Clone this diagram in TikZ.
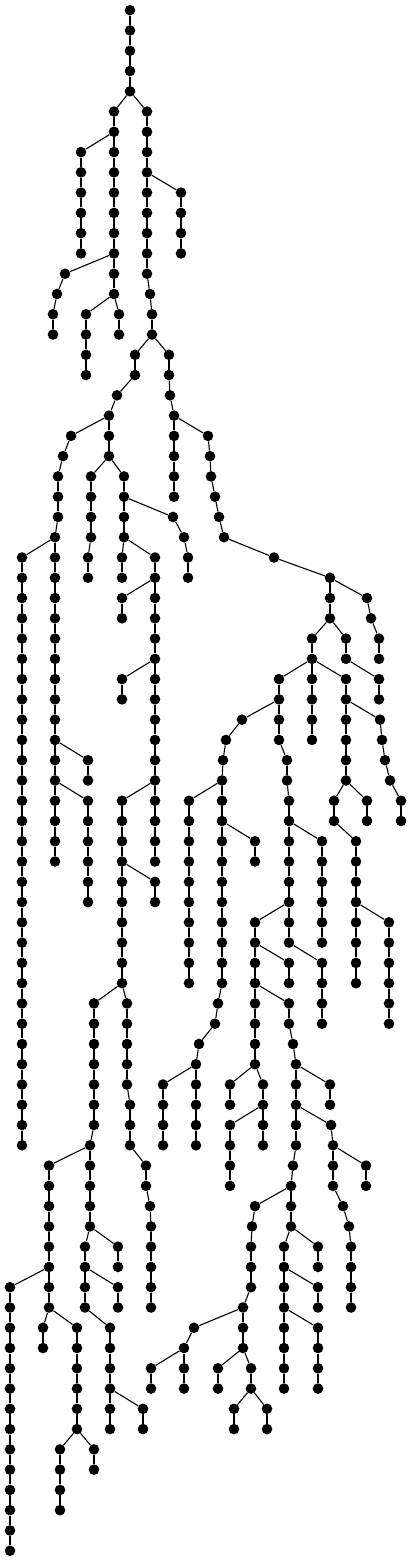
\documentclass[tikz,border=0pt]{standalone}
\tikzset{dot/.style={circle,fill=black,inner sep=0pt,minimum size=10.6pt},
  edge/.style={line width=1.1pt,black}}
\newcommand\chain[3]{\foreach \rw in {#2,...,#3}{\node[dot] (n#1r\rw) at (#1,{10.2+20.27*\rw}) {};\ifnum\rw>#2\relax\pgfmathtruncatemacro\pw{\rw-1}\draw[edge] (n#1r\pw) -- (n#1r\rw);\fi}}
\newcommand\nd[2]{\node[dot] (n#1r#2) at (#1,{10.2+20.27*#2}) {};}
\begin{document}
\begin{tikzpicture}[x=1pt,y=-1pt]
\useasboundingbox (0,0) rectangle (411,1561);
\foreach \cx/\ca/\cb in {130/0/4,114/5/14,147/5/13,81/7/12,181/9/12,53/15/16,86/15/18,119/15/16,152/15/16,135/17/18,169/17/18,109/20/22,58/23/25,55/26/42,22/27/56,88/37/38,88/39/44,91/23/26,88/27/28,124/23/26,188/27/28,122/27/28,155/27/42,122/29/30,122/33/34,122/39/48,155/43/44,94/49/55,90/56/60,49/57/64,10/63/76,43/65/66,77/65/70,60/71/74,94/71/72,118/61/62,85/61/64,118/63/64,110/65/70,143/69/70,127/49/53,130/54/56,146/57/58,151/60/64,174/20/24,330/28/30,379/31/32,346/31/32,379/33/34,312/31/36,279/33/36,346/33/38,222/38/48,189/39/48,255/41/42,196/52/56,163/53/56,287/37/38,289/39/46,322/41/46,255/45/52,322/47/50,289/47/48,289/49/50,296/52/56,230/53/54,263/53/56,230/55/58,330/53/54,333/56/58,366/57/58,291/58/60,251/61/63,243/64/66,184/66/68,151/67/68,218/67/68,251/67/68,234/69/70,267/69/70,284/61/68,318/61/62,318/63/64,318/65/68,401/39/40,334/39/40,367/39/40,356/41/48,389/45/50,351/61/64}{\chain{\cx}{\ca}{\cb}}
\foreach \cx/\ca in {65/13,57/14,150/14,117/19,71/21,63/22,173/25,184/26,150/59,170/19,208/21,210/22,211/23,215/24,219/25,224/26,274/27,367/29,371/30,242/35,226/36,223/37,218/49,215/50,199/51,293/51,331/55,293/57,255/59,252/60,194/65,380/35,382/36,385/37,390/38,343/59,349/60}{\nd{\cx}{\ca}}
\foreach \a/\b in {n130r4/n114r5,n130r4/n147r5,n114r6/n81r7,n147r8/n181r9,n114r12/n65r13,n65r13/n57r14,n57r14/n53r15,n114r14/n86r15,n114r14/n119r15,n147r13/n150r14,n150r14/n152r15,n152r16/n135r17,n152r16/n169r17,n135r18/n117r19,n117r19/n109r20,n109r20/n71r21,n71r21/n63r22,n63r22/n58r23,n58r25/n55r26,n55r26/n22r27,n55r36/n88r37,n55r38/n88r39,n109r22/n91r23,n91r26/n88r27,n109r22/n124r23,n124r24/n173r25,n173r25/n184r26,n184r26/n188r27,n124r26/n122r27,n124r26/n155r27,n155r28/n122r29,n155r32/n122r33,n155r38/n122r39,n122r42/n155r43,n122r48/n94r49,n94r55/n90r56,n90r56/n49r57,n49r62/n10r63,n49r64/n43r65,n49r64/n77r65,n77r70/n60r71,n77r70/n94r71,n90r60/n118r61,n90r60/n85r61,n85r62/n118r63,n85r64/n110r65,n110r68/n143r69,n122r48/n127r49,n127r53/n130r54,n130r56/n146r57,n146r58/n150r59,n150r59/n151r60,n169r18/n170r19,n170r19/n174r20,n174r20/n208r21,n208r21/n210r22,n210r22/n211r23,n211r23/n215r24,n215r24/n219r25,n219r25/n224r26,n224r26/n274r27,n274r27/n330r28,n330r28/n367r29,n367r29/n371r30,n371r30/n379r31,n330r30/n346r31,n346r32/n379r33,n330r30/n312r31,n312r32/n279r33,n312r32/n346r33,n279r34/n242r35,n242r35/n226r36,n226r36/n223r37,n223r37/n222r38,n222r38/n189r39,n222r40/n255r41,n222r48/n218r49,n218r49/n215r50,n215r50/n199r51,n199r51/n196r52,n196r52/n163r53,n279r36/n287r37,n287r38/n289r39,n289r40/n322r41,n289r44/n255r45,n289r46/n322r47,n255r46/n289r47,n255r48/n289r49,n289r50/n293r51,n293r51/n296r52,n255r52/n230r53,n255r52/n263r53,n263r54/n230r55,n296r52/n330r53,n296r54/n331r55,n331r55/n333r56,n333r56/n366r57,n296r56/n293r57,n293r57/n291r58,n291r58/n255r59,n255r59/n252r60,n252r60/n251r61,n251r63/n243r64,n243r64/n194r65,n194r65/n184r66,n184r66/n151r67,n243r66/n218r67,n243r66/n251r67,n251r68/n234r69,n251r68/n267r69,n291r60/n284r61,n291r60/n318r61,n284r62/n318r63,n284r64/n318r65,n346r34/n380r35,n380r35/n382r36,n382r36/n385r37,n385r37/n390r38,n390r38/n401r39,n346r38/n334r39,n346r38/n367r39,n334r40/n356r41,n356r44/n389r45,n333r58/n343r59,n343r59/n349r60,n349r60/n351r61}{\draw[edge] (\a) -- (\b);}
\end{tikzpicture}
\end{document}
